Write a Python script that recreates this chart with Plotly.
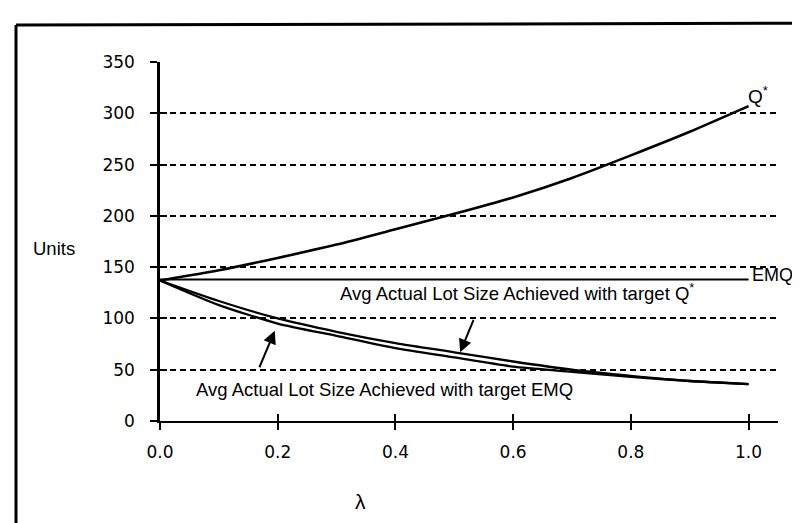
import plotly.graph_objects as go

# ---- data ----
lam = [0.0, 0.1, 0.2, 0.3, 0.4, 0.5, 0.6, 0.7, 0.8, 0.9, 1.0]
q_star = [137, 147, 159, 172, 187, 202, 218, 237, 259, 282, 307]
emq = [138, 138, 138, 138, 138, 138, 138, 138, 138, 138, 138]
avg_with_q_star = [137, 117, 100, 87, 76, 67, 58, 50, 44, 39, 36]
avg_with_emq = [137, 113, 95, 83, 71, 62, 53, 48, 43, 39, 36]

x_tick_vals = [0.0, 0.2, 0.4, 0.6, 0.8, 1.0]
x_tick_text = ["0.0", "0.2", "0.4", "0.6", "0.8", "1.0"]
y_tick_vals = [0, 50, 100, 150, 200, 250, 300, 350]
y_tick_text = ["0", "50", "100", "150", "200", "250", "300", "350"]

FONT = "Liberation Sans, Arial, Helvetica, sans-serif"
TICKFONT = "DejaVu Sans, Liberation Sans, sans-serif"

fig = go.Figure()
line_style = dict(color="black", shape="spline", smoothing=0.6)
fig.add_trace(go.Scatter(x=lam, y=q_star, mode="lines", line=dict(width=2.6, **line_style), showlegend=False))
fig.add_trace(go.Scatter(x=lam, y=emq, mode="lines", line=dict(width=2, color="black"), showlegend=False))
fig.add_trace(go.Scatter(x=lam, y=avg_with_q_star, mode="lines", line=dict(width=2.3, **line_style), showlegend=False))
fig.add_trace(go.Scatter(x=lam, y=avg_with_emq, mode="lines", line=dict(width=2.3, **line_style), showlegend=False))
# invisible trace so the overlay axes (crossing tick marks) are drawn
fig.add_trace(go.Scatter(x=[0], y=[0], xaxis="x2", yaxis="y2", mode="markers",
                         marker=dict(opacity=0), showlegend=False, hoverinfo="skip"))

tickfont = dict(family=TICKFONT, size=17, color="black")
fig.update_layout(
    width=800, height=523,
    margin=dict(l=152, r=30, t=54, b=110),
    paper_bgcolor="white", plot_bgcolor="white",
    font=dict(family=FONT, size=18, color="black"),
    xaxis=dict(range=[0, 1.05], tickvals=x_tick_vals, ticktext=x_tick_text,
               showline=True, linecolor="black", linewidth=2,
               ticks="outside", ticklen=7, tickwidth=2, tickcolor="black",
               showgrid=False, zeroline=False, tickfont=tickfont, ticklabelstandoff=8),
    yaxis=dict(range=[0, 350], tickvals=y_tick_vals, ticktext=y_tick_text,
               showline=True, linecolor="black", linewidth=2.5,
               ticks="outside", ticklen=7, tickwidth=2, tickcolor="black",
               showgrid=True, gridcolor="black", gridwidth=1.5, griddash="6px,4px",
               zeroline=False, tickfont=tickfont, ticklabelstandoff=12),
    xaxis2=dict(overlaying="x", anchor="y", side="bottom", range=[0, 1.05], tickvals=x_tick_vals,
                ticks="inside", ticklen=7, tickwidth=2, tickcolor="black",
                showticklabels=False, showline=False, showgrid=False, zeroline=False),
    yaxis2=dict(overlaying="y", anchor="x", side="left", range=[0, 350], tickvals=y_tick_vals,
                ticks="inside", ticklen=7, tickwidth=2, tickcolor="black",
                showticklabels=False, showline=False, showgrid=False, zeroline=False),
)

annotations = [
    dict(x=0.995, y=318, xref="x", yref="y", text="Q<sup>*</sup>", showarrow=False,
         xanchor="left", yanchor="middle", font=dict(size=19)),
    dict(x=1.003, y=142, xref="x", yref="y", text="EMQ", showarrow=False,
         xanchor="left", yanchor="middle", font=dict(size=18)),
    dict(x=0.607, y=126, xref="x", yref="y", text="Avg Actual Lot Size Achieved with target Q<sup>*</sup>",
         showarrow=False, xanchor="center", yanchor="middle", font=dict(size=18.5)),
    dict(x=0.381, y=31, xref="x", yref="y", text="Avg Actual Lot Size Achieved with target EMQ",
         showarrow=False, xanchor="center", yanchor="middle", font=dict(size=18.5)),
    # arrows
    dict(x=0.51, y=67, xref="x", yref="y", text="", showarrow=True, ax=14, ay=-34,
         arrowhead=2, arrowsize=1.3, arrowwidth=2, arrowcolor="black", standoff=0),
    dict(x=0.195, y=88, xref="x", yref="y", text="", showarrow=True, ax=-16, ay=38,
         arrowhead=2, arrowsize=1.3, arrowwidth=2, arrowcolor="black", standoff=0),
    # axis titles
    dict(x=0.34, y=-0.225, xref="x", yref="paper", text="λ", showarrow=False,
         xanchor="center", yanchor="middle", font=dict(size=21)),
    dict(x=-0.172, y=0.48, xref="paper", yref="paper", text="Units", showarrow=False,
         xanchor="center", yanchor="middle", font=dict(size=18.5)),
]
fig.update_layout(annotations=annotations)

# scanned frame around the figure
frame = dict(color="black", width=3)
fig.update_layout(shapes=[
    dict(type="line", xref="paper", yref="paper", x0=-0.233, x1=1.05, y0=1.103, y1=1.108, line=frame),
    dict(type="line", xref="paper", yref="paper", x0=-0.233, x1=-0.233, y0=1.103, y1=-0.31, line=frame),
    dict(type="line", xref="paper", yref="paper", x0=0.435, x1=1.05, y0=-0.296, y1=-0.298, line=frame),
])

fig.write_html("out.html")
